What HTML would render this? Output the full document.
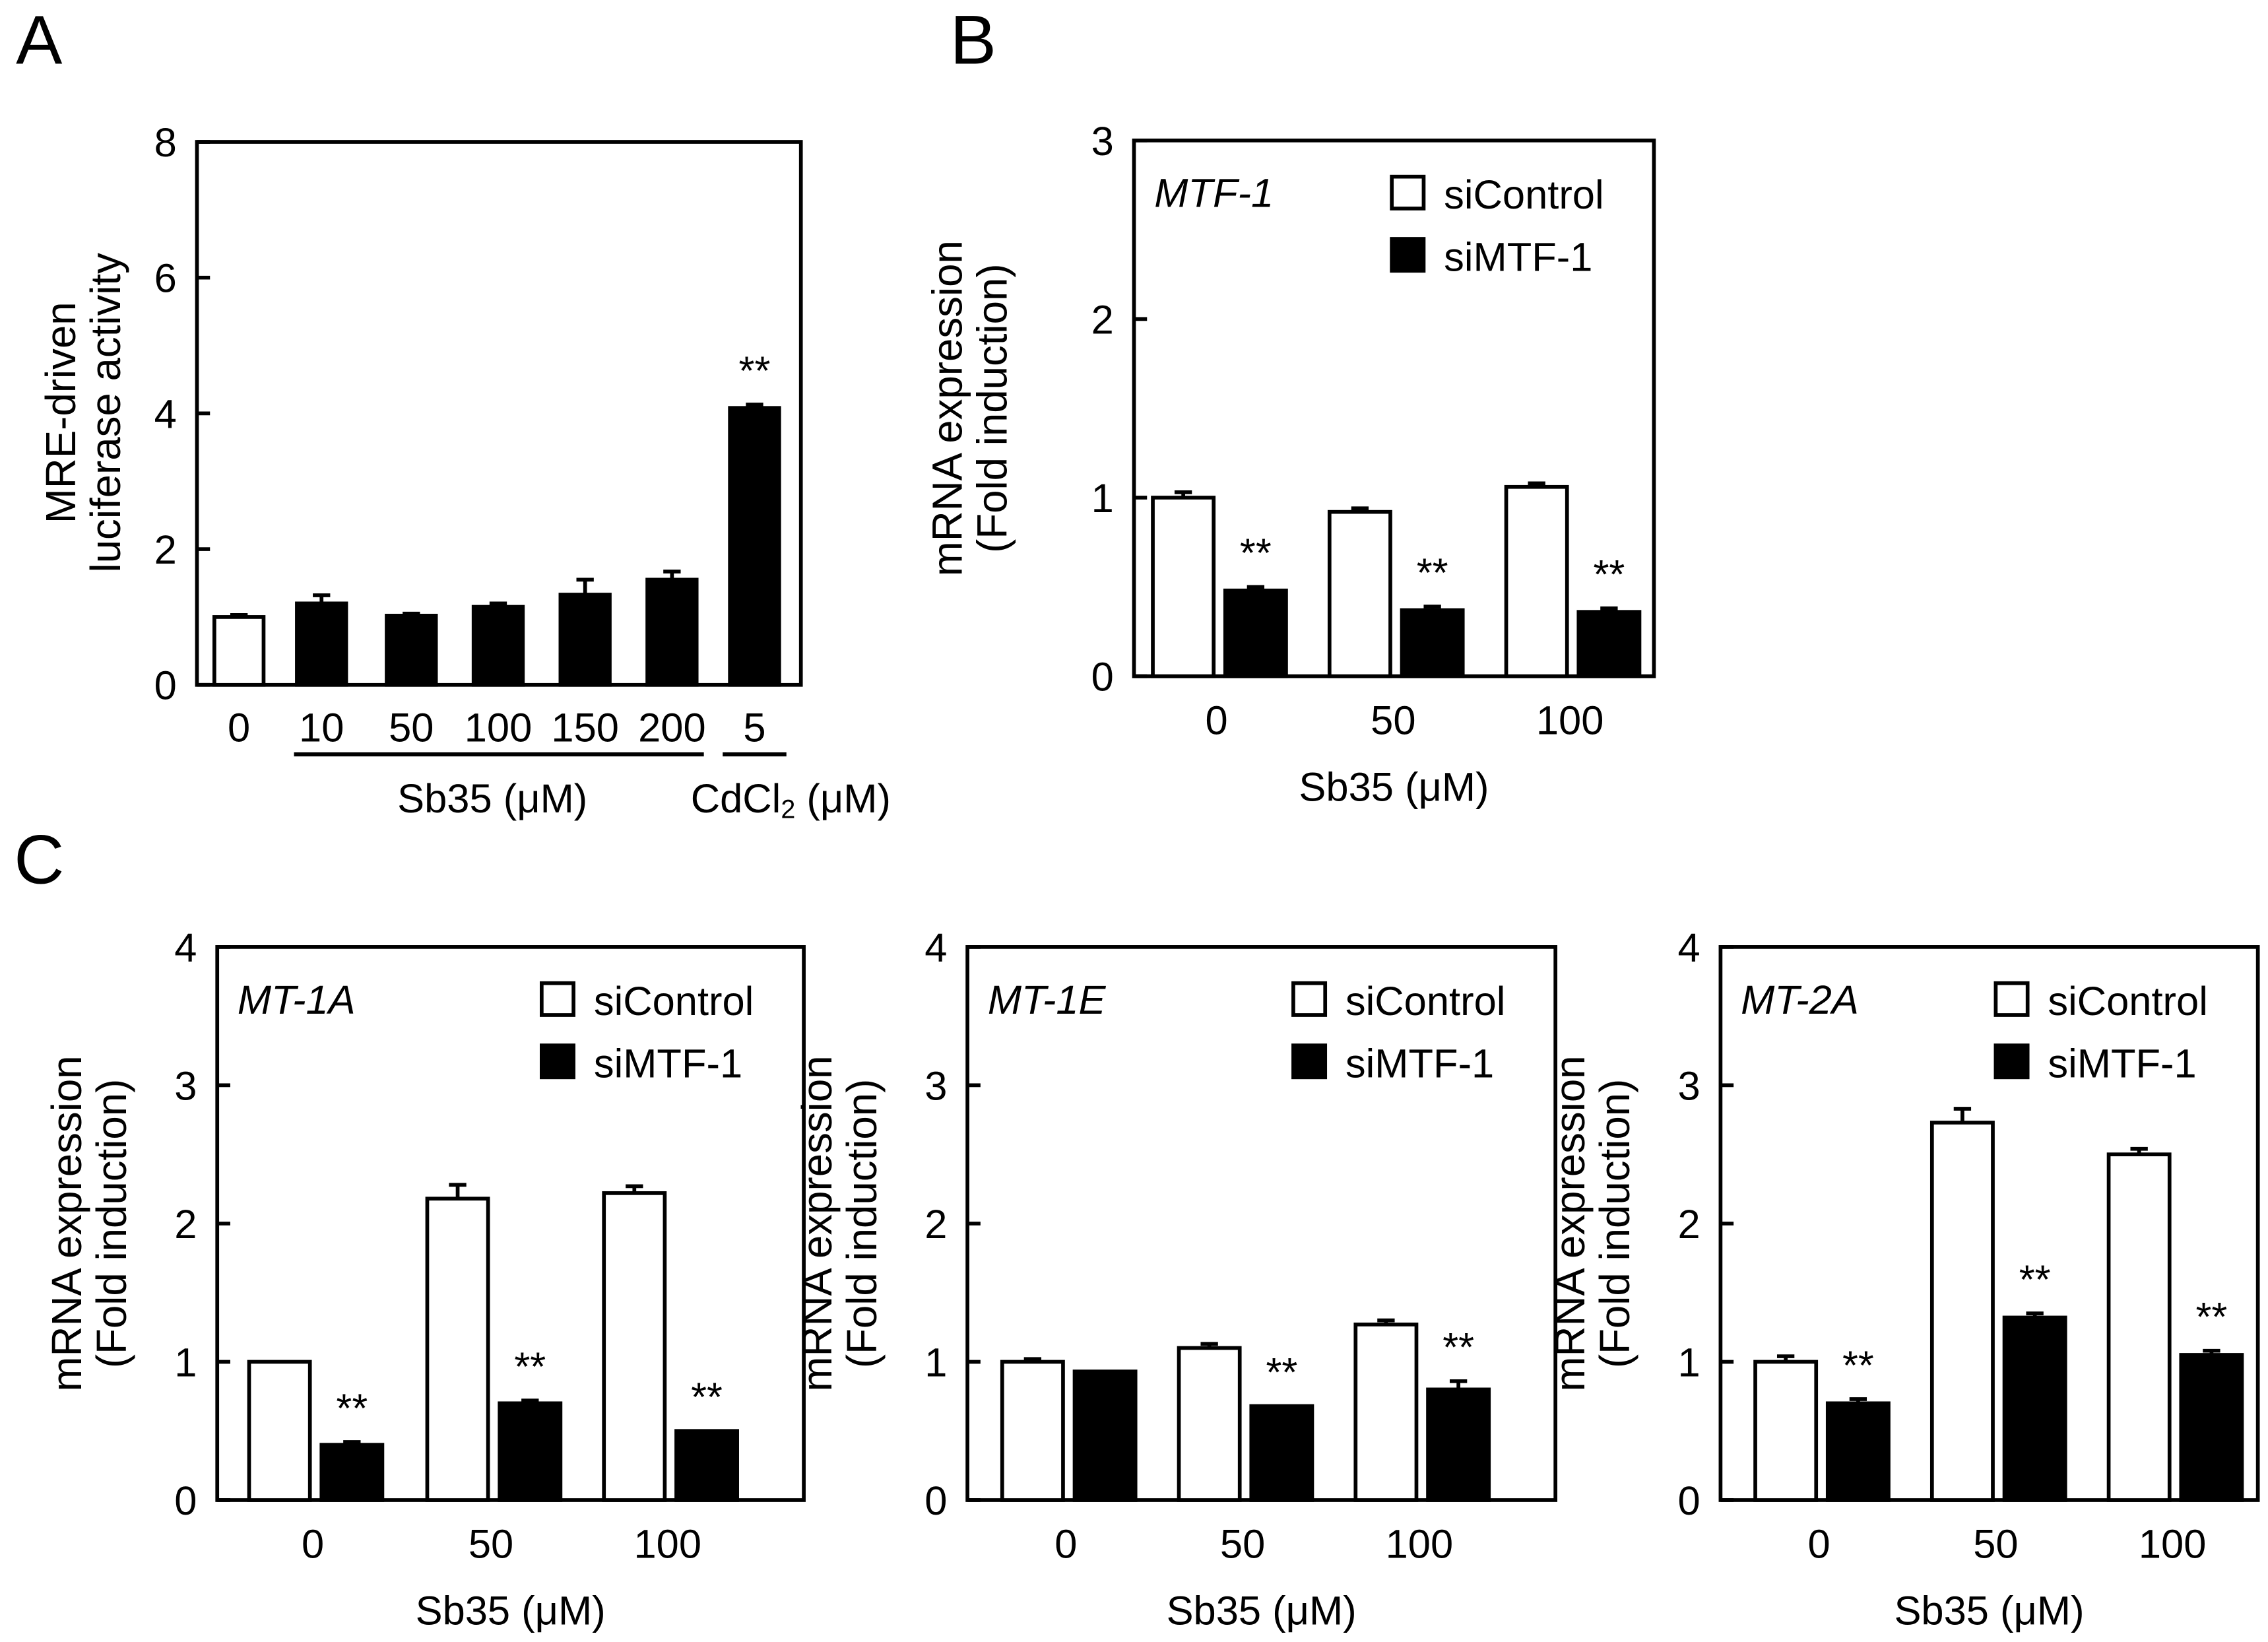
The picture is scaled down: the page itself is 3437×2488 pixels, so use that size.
<!DOCTYPE html>
<html><head><meta charset="utf-8"><style>
html,body{margin:0;padding:0;background:#fff;}
svg{display:block;}
text{font-family:"Liberation Sans",Arial,sans-serif;fill:#000;}
</style></head>
<body>
<svg id="fig" width="3437" height="2488" viewBox="0 0 1566 1134" preserveAspectRatio="none" xmlns="http://www.w3.org/2000/svg">
<rect width="1566" height="1134" fill="#fff"/>
</svg>
<script>
// Panel A data
const aCats = ['0','10','50','100','150','200','5'];
const aVals = [1.0, 1.2, 1.02, 1.15, 1.33, 1.55, 4.08];
const aErr = [0.03, 0.12, 0.03, 0.05, 0.22, 0.12, 0.05];
const aFill = ['w','b','b','b','b','b','b'];
const aSig = ['', '', '', '', '', '', '**'];
const aTicks = [0, 2, 4, 6, 8];
// Panel B / C data
const groupCats = ['0','50','100'];
const bCtrl = [1.0, 0.92, 1.06];
const bCtrlErr = [0.03, 0.02, 0.02];
const bSi = [0.48, 0.37, 0.36];
const bSiErr = [0.02, 0.02, 0.02];
const bSig = ['**', '**', '**'];
const bTicks = [0, 1, 2, 3];
const c1Ctrl = [1.0, 2.18, 2.22];
const c1CtrlErr = [0.0, 0.1, 0.05];
const c1Si = [0.4, 0.7, 0.5];
const c1SiErr = [0.02, 0.02, 0.0];
const c1Sig = ['**', '**', '**'];
const c2Ctrl = [1.0, 1.1, 1.27];
const c2CtrlErr = [0.02, 0.03, 0.03];
const c2Si = [0.93, 0.68, 0.8];
const c2SiErr = [0.0, 0.0, 0.06];
const c2Sig = ['', '**', '**'];
const c3Ctrl = [1.0, 2.73, 2.5];
const c3CtrlErr = [0.04, 0.1, 0.04];
const c3Si = [0.7, 1.32, 1.05];
const c3SiErr = [0.03, 0.03, 0.03];
const c3Sig = ['**', '**', '**'];
const cTicks = [0, 1, 2, 3, 4];

const NS = 'http://www.w3.org/2000/svg';
const svg = document.getElementById('fig');
const FS = 28;
function el(tag, attrs, parent) {
  const e = document.createElementNS(NS, tag);
  for (const k in attrs) e.setAttribute(k, attrs[k]);
  (parent || svg).appendChild(e);
  return e;
}
function txt(x, y, s, size, anchor, extra, parent) {
  const t = el('text', Object.assign({x: x, y: y, 'font-size': size, 'text-anchor': anchor || 'middle'}, extra || {}), parent);
  t.textContent = s;
  return t;
}
const SW = 2.6;

function axes(g, x0, x1, y0, y1, vmax, ticks) {
  const ys = v => y1 - (v / vmax) * (y1 - y0);
  const box = el('rect', {x: x0, y: y0, width: x1 - x0, height: y1 - y0, fill: 'none', stroke: '#000', 'stroke-width': SW}, g);
  
  
  ticks.forEach(t => {
    const tk = el('line', {x1: x0, x2: x0 + 9, y1: ys(t), y2: ys(t), stroke: '#000', 'stroke-width': SW}, g);
    
    
    const tl = txt(x0 - 14, ys(t) + 10, String(t), FS, 'end', {}, g);
    
    
  });
  return ys;
}
function bar(g, cx, w, v, e, fill, ys, name) {
  const top = ys(v), base = ys(0);
  if (e > 0) {
    const eb = el('path', {d: `M${cx} ${top} V${ys(v + e)} M${cx - 6} ${ys(v + e)} H${cx + 6}`, stroke: '#000', 'stroke-width': SW, fill: 'none'}, g);
    
    
  }
  const r = el('rect', {x: cx - w / 2, y: top, width: w, height: base - top, fill: fill === 'w' ? '#fff' : '#000', stroke: '#000', 'stroke-width': SW}, g);
  
  
}
function ytitle(g, x, y, lines) {
  lines.forEach((s, i) => {
    const t = txt(0, 0, s, 29, 'middle', {transform: `translate(${x + i * 31},${y}) rotate(-90)`}, g);
    
    
  });
}

// Panel A
(function () {
  const g = el('g', {});
  
  
  const L = txt(27, 44, 'A', 48, 'middle', {}, g);
  
  
  const ys = axes(g, 136, 553, 98, 473, 8, aTicks);
  const centers = [165, 222, 284, 344, 404, 464, 521];
  aCats.forEach((c, i) => {
    bar(g, centers[i], 34, aVals[i], aErr[i], aFill[i], ys, 'bar-' + c);
    const t = txt(centers[i], 512, c, FS, 'middle', {}, g);
    
    
    if (aSig[i]) {
      const s = txt(centers[i], ys(aVals[i] + aErr[i]) - 14, aSig[i], FS, 'middle', {}, g);
      
      
    }
  });
  const u1 = el('line', {x1: 203, x2: 486, y1: 521, y2: 521, stroke: '#000', 'stroke-width': 2.8}, g);
  
  
  const u2 = el('line', {x1: 499, x2: 543, y1: 521, y2: 521, stroke: '#000', 'stroke-width': 2.8}, g);
  
  
  const x1 = txt(340, 561, 'Sb35 (μM)', FS, 'middle', {}, g);
  
  
  const x2 = txt(546, 561, '', FS, 'middle', {}, g);
  
  
  x2.innerHTML = 'CdCl<tspan font-size="18" dy="4">2</tspan><tspan dy="-4"> (μM)</tspan>';
  ytitle(g, 52, 285, ['MRE-driven', 'luciferase activity']);
})();

function groupPanel(name, letter, x0, x1, y0, y1, vmax, ticks, centers, ctrl, ctrlE, si, siE, sig, gene, titleX) {
  const g = el('g', {});
  
  
  if (letter) {
    const L = txt(letter[1], letter[2], letter[0], 48, 'middle', {}, g);
    
    
  }
  const ys = axes(g, x0, x1, y0, y1, vmax, ticks);
  groupCats.forEach((c, i) => {
    const cx = centers[i];
    bar(g, cx - 23, 42, ctrl[i], ctrlE[i], 'w', ys, 'bar-sicontrol-' + c);
    bar(g, cx + 27, 42, si[i], siE[i], 'b', ys, 'bar-simtf1-' + c);
    if (sig[i]) {
      const s = txt(cx + 27, ys(si[i] + siE[i]) - 14, sig[i], FS, 'middle', {}, g);
      
      
    }
    const t = txt(cx, y1 + 40, c, FS, 'middle', {}, g);
    
    
  });
  const xt = txt((x0 + x1) / 2 + 0, y1 + 86, 'Sb35 (μM)', FS, 'middle', {}, g);
  
  
  const gn = txt(x0 + 14, y0 + 46, gene, FS, 'start', {'font-style': 'italic'}, g);
  
  
  const lx = x1 - 181;
  const s1 = el('rect', {x: lx, y: y0 + 25, width: 22, height: 22, fill: '#fff', stroke: '#000', 'stroke-width': SW}, g);
  
  
  const t1 = txt(lx + 36, y0 + 47, 'siControl', FS, 'start', {}, g);
  
  
  const s2 = el('rect', {x: lx, y: y0 + 68, width: 22, height: 22, fill: '#000', stroke: '#000', 'stroke-width': SW}, g);
  
  
  const t2 = txt(lx + 36, y0 + 90, 'siMTF-1', FS, 'start', {}, g);
  
  
  ytitle(g, titleX, (y0 + y1) / 2, ['mRNA expression', '(Fold induction)']);
}

groupPanel('panel-b', ['B', 672, 44], 783, 1142, 97, 467, 3, bTicks, [840, 962, 1084], bCtrl, bCtrlErr, bSi, bSiErr, bSig, 'MTF-1', 664);
groupPanel('panel-c-mt1a', ['C', 27, 610], 150, 555, 654, 1036, 4, cTicks, [216, 339, 461], c1Ctrl, c1CtrlErr, c1Si, c1SiErr, c1Sig, 'MT-1A', 56);
groupPanel('panel-c-mt1e', null, 668, 1074, 654, 1036, 4, cTicks, [736, 858, 980], c2Ctrl, c2CtrlErr, c2Si, c2SiErr, c2Sig, 'MT-1E', 574);
groupPanel('panel-c-mt2a', null, 1188, 1559, 654, 1036, 4, cTicks, [1256, 1378, 1500], c3Ctrl, c3CtrlErr, c3Si, c3SiErr, c3Sig, 'MT-2A', 1094);
</script>
</body></html>
